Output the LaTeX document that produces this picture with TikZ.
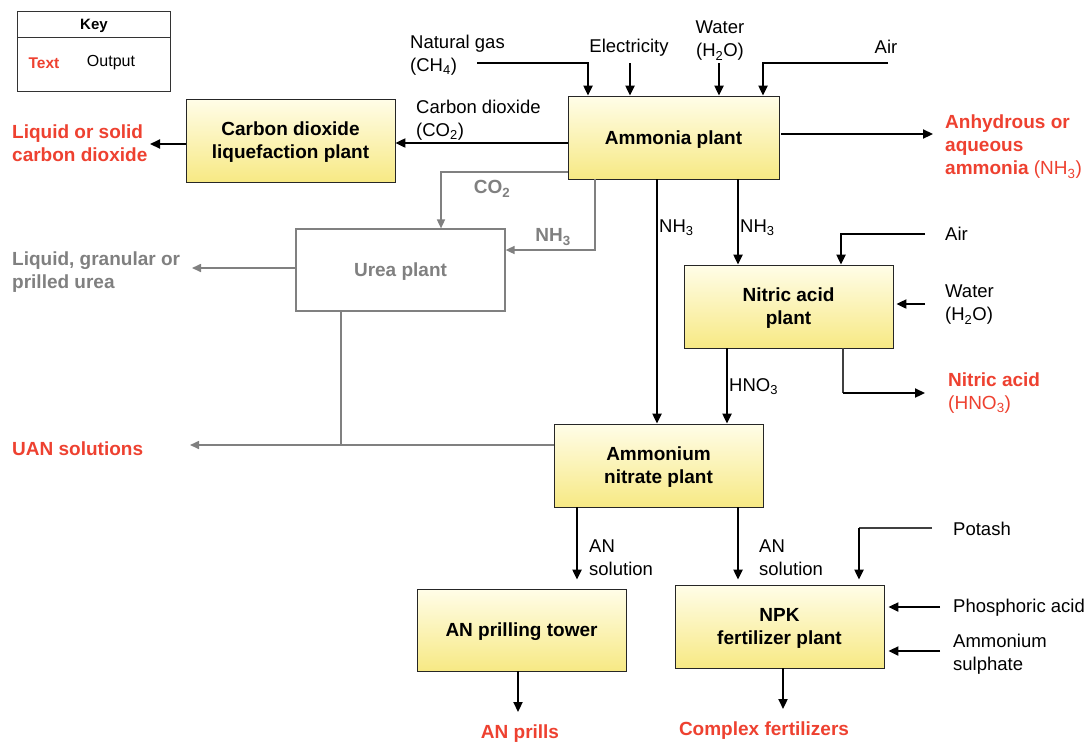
\documentclass[tikz,border=0pt]{standalone}
\usepackage{fontspec}
\setmainfont{Liberation Sans}
\usetikzlibrary{arrows.meta,calc}
\definecolor{outred}{HTML}{EE4130}
\definecolor{grayc}{HTML}{808080}
\definecolor{boxtop}{HTML}{FFFDE8}
\definecolor{boxbot}{HTML}{F7E984}
\begin{document}
\begin{tikzpicture}[x=1pt,y=-1pt,
  plant/.style={draw=black!85, line width=0.9pt, top color=boxtop, bottom color=boxbot,
    minimum width=209pt, minimum height=83pt, align=center, inner sep=0pt, text depth=0pt,
    font=\bfseries\fontsize{19}{23}\selectfont},
  ureabox/.style={draw=grayc, line width=1.2pt, fill=white, text=grayc,
    minimum width=209pt, minimum height=82pt, align=center, inner sep=0pt, text depth=0pt,
    font=\bfseries\fontsize{19}{23}\selectfont},
  lbl/.style={font=\fontsize{18.5}{23}\selectfont, inner sep=0pt, align=left},
  lblc/.style={lbl, align=center},
  outlbl/.style={lbl, text=outred, font=\bfseries\fontsize{19}{23}\selectfont},
  graylbl/.style={lbl, text=grayc, font=\bfseries\fontsize{19}{23}\selectfont},
  arr/.style={draw=black, line width=2.2pt, -{Triangle[length=10pt,width=9pt]}},
  garr/.style={draw=grayc, line width=1.6pt, -{Triangle[length=9pt,width=8pt]}},
  gline/.style={draw=grayc, line width=1.6pt},
  thinline/.style={draw=black!75, line width=1.2pt}
]
\path[use as bounding box, fill=white] (0,0) rectangle (1089,742);

% Key
\node[draw=black!80, line width=0.9pt, minimum width=153pt, minimum height=26pt, anchor=north west, inner sep=0pt,
  text depth=0pt, font=\bfseries\fontsize{15}{17}\selectfont] (keyhead) at (17,11) {Key};
\node[draw=black!80, line width=0.9pt, minimum width=153pt, minimum height=54pt, anchor=north west, inner sep=0pt] (keybody) at (17,37) {};
\node[inner sep=0pt, text=outred, font=\bfseries\fontsize{15.5}{17}\selectfont] (keytext) at (44,63) {Text};
\node[inner sep=0pt, font=\fontsize{16}{17}\selectfont] (keyout) at (111,63) {Output};

% Plants
\node[plant] (co2) at (290.5,140.5) {Carbon dioxide\\liquefaction plant};
\node[plant, minimum width=211pt] (amm) at (673.5,137.5) {Ammonia plant};
\node[ureabox] (urea) at (400.5,270) {Urea plant};
\node[plant] (nit) at (788.5,306.5) {Nitric acid\\plant};
\node[plant] (an) at (658.5,465.5) {Ammonium\\nitrate plant};
\node[plant, minimum height=82pt] (pril) at (521.5,630) {AN prilling tower};
\node[plant] (npk) at (779.5,626.5) {NPK\\fertilizer plant};

% Inputs to ammonia plant
\node[lbl, anchor=west] (lng) at (410,55) {Natural gas\\(CH\textsubscript{4})};
\node[lblc] (lel) at (629,48) {Electricity};
\node[lblc] (lwat) at (720,41) {Water\\(H\textsubscript{2}O)};
\node[lblc] (lair) at (886,47) {Air};
\coordinate (ngs) at (477,63);
\coordinate (els) at (630,63);
\coordinate (wats) at (719,63);
\coordinate (airs) at (888,63);
\draw[arr] (ngs) -| (amm.north -| 588,0);
\draw[arr] (els) -- (amm.north -| 630,0);
\draw[arr] (wats) -- (amm.north -| 719,0);
\draw[arr] (airs) -| (amm.north -| 763,0);

% CO2 to liquefaction
\draw[arr] (amm.west |- 0,143) -- (co2.east |- 0,143);
\node[lbl, anchor=west] (lco2) at (416,120.5) {Carbon dioxide\\(CO\textsubscript{2})};
\coordinate (lcs) at (150,144);
\draw[arr] (co2.west |- 0,144) -- (lcs);
\node[outlbl, anchor=west] (outco2) at (12,143) {Liquid or solid\\carbon dioxide};

% Ammonia out
\coordinate (ammo) at (933,134);
\draw[arr, shorten <=2pt] (amm.east |- 0,134) -- (ammo);
\node[outlbl, anchor=west] (outamm) at (945,147) {Anhydrous or\\aqueous\\ammonia \mdseries(NH\textsubscript{3})};

% Urea (gray)
\draw[garr] (amm.west |- 0,172) -| (urea.north -| 441,0);
\node[graylbl] (lgco2) at (492,189) {CO\textsubscript{2}};
\draw[garr] (amm.south -| 595,0) |- (urea.east |- 0,250);
\node[graylbl] (lgnh3) at (553,237) {NH\textsubscript{3}};
\coordinate (ureao) at (192,268);
\draw[garr] (urea.west |- 0,268) -- (ureao);
\node[graylbl, anchor=west] (outurea) at (12,272) {Liquid, granular or\\prilled urea};
\coordinate (uj) at (341,445);
\draw[gline] (urea.south -| 341,0) -- (uj);
\coordinate (uano) at (190,445);
\draw[garr] (an.west |- 0,445) -- (uano);
\node[outlbl, anchor=west] (outuan) at (12,449) {UAN solutions};

% NH3 flows
\draw[arr] (amm.south -| 657,0) -- (an.north -| 657,0);
\node[lbl, anchor=west] (lnh3a) at (659,228) {NH\textsubscript{3}};
\draw[arr] (amm.south -| 738,0) -- (nit.north -| 738,0);
\node[lbl, anchor=west] (lnh3b) at (740,228) {NH\textsubscript{3}};

% Nitric acid inputs
\coordinate (nairs) at (925,234);
\draw[arr] (nairs) -| (nit.north -| 841,0);
\node[lbl, anchor=west] (lnair) at (945,234) {Air};
\coordinate (nwats) at (925,304);
\draw[arr, shorten >=3pt] (nwats) -- (nit.east |- 0,304);
\node[lbl, anchor=west] (lnwat) at (945,305) {Water\\(H\textsubscript{2}O)};

% HNO3
\draw[arr] (nit.south -| 727,0) -- (an.north -| 727,0);
\node[lbl, anchor=west] (lhno3) at (729,387) {HNO\textsubscript{3}};
\coordinate (nc) at (843,393);
\coordinate (nito) at (925,393);
\draw[thinline] (nit.south -| 843,0) -- (nc);
\draw[arr] (nc) -- (nito);
\node[outlbl, anchor=west] (outnit) at (948,393) {Nitric acid\\\mdseries(HNO\textsubscript{3})};

% AN plant outputs
\draw[arr, shorten >=9pt] (an.south -| 577,0) -- (pril.north -| 577,0);
\node[lbl, anchor=west] (lans1) at (589,558) {AN\\solution};
\draw[arr, shorten >=5pt] (an.south -| 738,0) -- (npk.north -| 738,0);
\node[lbl, anchor=west] (lans2) at (759,558) {AN\\solution};

% NPK inputs
\coordinate (pots) at (932,528);
\coordinate (potc) at (859,528);
\draw[thinline] (pots) -- (potc);
\draw[arr, shorten >=5pt] (potc) -- (npk.north -| 859,0);
\node[lbl, anchor=west] (lpot) at (953,529) {Potash};
\coordinate (phs) at (940,607);
\draw[arr, shorten >=4pt] (phs) -- (npk.east |- 0,607);
\node[lbl, anchor=west] (lph) at (953,608) {Phosphoric acid};
\coordinate (ass) at (940,651);
\draw[arr, shorten >=4pt] (ass) -- (npk.east |- 0,651);
\node[lbl, anchor=west] (las) at (953,654) {Ammonium\\sulphate};

% Final outputs
\coordinate (prilo) at (518,712);
\draw[arr] (pril.south -| 518,0) -- (prilo);
\node[outlbl] (outpril) at (520,734) {AN prills};
\coordinate (npko) at (783,709);
\draw[arr] (npk.south -| 783,0) -- (npko);
\node[outlbl] (outnpk) at (764,731) {Complex fertilizers};
\end{tikzpicture}
\end{document}
